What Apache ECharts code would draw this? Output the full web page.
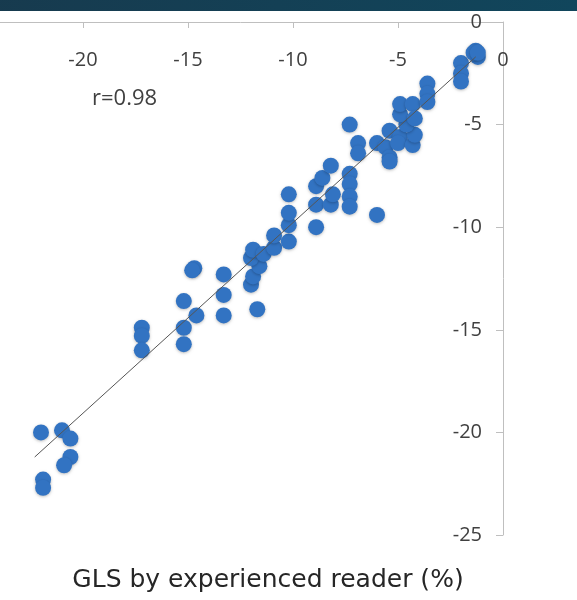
<!DOCTYPE html>
<html>
<head>
<meta charset="utf-8">
<script src="https://cdn.jsdelivr.net/npm/echarts@6/dist/echarts.min.js"></script>
<style>
html,body{margin:0;padding:0;background:#fff;overflow:hidden;width:577px;height:600px;}
#chart{width:599px;height:600px;margin-left:-22px;}
</style>
</head>
<body>
<div id="chart"></div>
<script>
// GLS by experienced reader (%) -> x
const glsExperienced = [
  -22.0,-21.0,-20.6,-20.6,-20.9,-21.9,-21.9,
  -17.2,-17.2,-17.2,-15.2,-15.2,-15.2,-14.6,-14.7,-14.8,
  -13.3,-13.3,-13.3,-11.7,-12.0,-11.9,-11.6,-12.0,-11.9,-11.4,
  -10.9,-10.9,-10.2,-10.2,-10.2,-10.2,
  -8.9,-8.9,-8.2,-8.9,-8.1,-8.6,-8.2,
  -7.3,-7.3,-7.3,-7.3,-6.0,-7.3,-6.9,-6.9,
  -6.0,-5.6,-5.4,-5.4,-5.4,-4.9,-5.0,-4.3,-4.2,-4.6,-4.9,-4.9,-4.3,-4.2,
  -3.6,-3.6,-3.6,-2.0,-2.0,-2.0,-1.3,-1.2,-1.4,-1.2
];
// GLS by second reader (%) -> y
const glsSecond = [
  -20.0,-19.9,-20.3,-21.2,-21.6,-22.3,-22.7,
  -14.9,-15.3,-16.0,-13.6,-14.9,-15.7,-14.3,-12.0,-12.1,
  -12.3,-13.3,-14.3,-14.0,-12.8,-12.4,-11.9,-11.5,-11.1,-11.3,
  -11.0,-10.4,-10.7,-9.9,-9.3,-8.4,
  -10.0,-8.9,-8.9,-8.0,-8.4,-7.6,-7.0,
  -7.4,-7.9,-8.5,-9.0,-9.4,-5.0,-5.9,-6.4,
  -5.9,-6.1,-6.6,-6.8,-5.3,-5.6,-5.9,-6.0,-5.5,-5.0,-4.5,-4.0,-4.0,-4.7,
  -3.0,-3.5,-3.9,-2.0,-2.5,-2.9,-1.4,-1.7,-1.5,-1.5
];
// regression line end points
const trendX = [-22.3, -1.3];
const trendY = [-21.2, -1.7];
const xTicks = [-25, 0, 5];   // min, max, interval
const yTicks = [-25, 0, 5];
const rText = 'r=0.98';
const xTitle = 'GLS by experienced reader (%)';

const points = glsExperienced.map((x, i) => [x, glsSecond[i]]);
const trend = trendX.map((x, i) => [x, trendY[i]]);

const chart = echarts.init(document.getElementById('chart'), null, {renderer: 'canvas'});
const FONT = '"Open Sans", "Noto Sans", sans-serif';
chart.setOption({
  animation: false,
  backgroundColor: '#ffffff',
  grid: {left: 0, right: 74, top: 22, bottom: 65, containLabel: false, outerBoundsMode: 'none'},
  xAxis: {
    type: 'value', position: 'top',
    min: xTicks[0], max: xTicks[1], interval: xTicks[2],
    axisLine: {show: true, onZero: false, lineStyle: {color: '#bfbfbf', width: 1}},
    axisTick: {show: true, inside: true, length: 6, lineStyle: {color: '#bfbfbf'}},
    axisLabel: {inside: true, margin: 28, color: '#404040', fontSize: 20, fontFamily: FONT},
    splitLine: {show: false}
  },
  yAxis: {
    type: 'value', position: 'right',
    min: yTicks[0], max: yTicks[1], interval: yTicks[2],
    axisLine: {show: true, onZero: false, lineStyle: {color: '#bfbfbf', width: 1}},
    axisTick: {show: true, inside: true, length: 7, lineStyle: {color: '#bfbfbf'}},
    axisLabel: {inside: true, margin: 21, color: '#404040', fontSize: 20, fontFamily: FONT},
    splitLine: {show: false}
  },
  graphic: [
    {type: 'rect', left: 0, top: 0, shape: {width: 599, height: 11}, silent: true,
     style: {fill: new echarts.graphic.LinearGradient(0, 0, 1, 0, [
       {offset: 0, color: '#173a4e'}, {offset: 1, color: '#11465c'}])}},
    {type: 'text', left: 114, top: 88, silent: true,
     style: {text: rText, fill: '#404040', font: '22px ' + FONT}},
    {type: 'text', x: 290, y: 580, silent: true,
     style: {text: xTitle, fill: '#262626', font: '25px "DejaVu Sans", sans-serif', textAlign: 'center', textVerticalAlign: 'middle'}}
  ],
  series: [
    {
      type: 'scatter', data: points, symbolSize: 16,
      itemStyle: {color: '#3273c2', opacity: 1, shadowBlur: 3, shadowColor: 'rgba(0,0,0,0.25)', shadowOffsetY: 1}
    },
    {
      type: 'line', data: trend, showSymbol: false, symbol: 'none', z: 5,
      lineStyle: {color: '#555555', width: 1}
    }
  ]
});
</script>
</body>
</html>
